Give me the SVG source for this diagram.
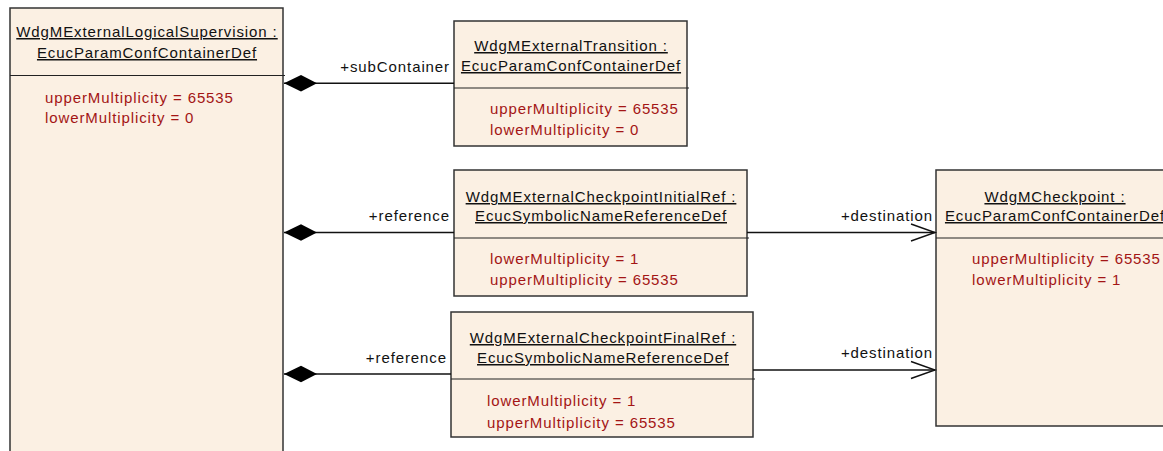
<svg xmlns="http://www.w3.org/2000/svg" width="1163" height="451" viewBox="0 0 1163 451">
<style>
.box{fill:#FBF0E3;stroke:#333;stroke-width:1.5}
.div{stroke:#222;stroke-width:1.2}
.t{font-family:"Liberation Sans",Arial,sans-serif;font-size:15px;fill:#111;letter-spacing:0.9px}
.ti{text-anchor:middle;text-decoration:underline}
.a{fill:#A31515}
.lbl{text-anchor:end}
.ln{stroke:#111;stroke-width:1.4;fill:none}
</style>
<defs>
<marker id="dia" markerWidth="36" markerHeight="20" refX="34" refY="9" orient="auto" markerUnits="userSpaceOnUse">
<path d="M1,9 L17,0.7 L34,9 L17,17.3 Z" fill="#000"/>
</marker>
<marker id="open" markerWidth="28" markerHeight="22" refX="25" refY="10" orient="auto" markerUnits="userSpaceOnUse">
<path d="M1,1.5 L25,10 L1,18.5" fill="none" stroke="#111" stroke-width="1.4"/>
</marker>
</defs>

<g id="WdgMExternalLogicalSupervision">
<rect class="box" x="10" y="8" width="273" height="460"/>
<line class="div" x1="10" y1="75.5" x2="285" y2="75.5"/>
<text class="t ti" x="147" y="37">WdgMExternalLogicalSupervision :</text>
<text class="t ti" x="147" y="58">EcucParamConfContainerDef</text>
<text class="t a" x="45" y="103">upperMultiplicity = 65535</text>
<text class="t a" x="45" y="123">lowerMultiplicity = 0</text>
</g>

<g id="WdgMExternalTransition">
<rect class="box" x="454" y="21" width="233" height="125"/>
<line class="div" x1="454" y1="88" x2="689" y2="88"/>
<text class="t ti" x="571" y="51">WdgMExternalTransition :</text>
<text class="t ti" x="571" y="71">EcucParamConfContainerDef</text>
<text class="t a" x="490" y="114">upperMultiplicity = 65535</text>
<text class="t a" x="490" y="135">lowerMultiplicity = 0</text>
</g>

<g id="WdgMExternalCheckpointInitialRef">
<rect class="box" x="454" y="170" width="293" height="126"/>
<line class="div" x1="454" y1="238" x2="749" y2="238"/>
<text class="t ti" x="601" y="202">WdgMExternalCheckpointInitialRef :</text>
<text class="t ti" x="601" y="221">EcucSymbolicNameReferenceDef</text>
<text class="t a" x="490" y="264">lowerMultiplicity = 1</text>
<text class="t a" x="490" y="285">upperMultiplicity = 65535</text>
</g>

<g id="WdgMExternalCheckpointFinalRef">
<rect class="box" x="451" y="312" width="302" height="125"/>
<line class="div" x1="451" y1="379" x2="755" y2="379"/>
<text class="t ti" x="603" y="343">WdgMExternalCheckpointFinalRef :</text>
<text class="t ti" x="603" y="363">EcucSymbolicNameReferenceDef</text>
<text class="t a" x="487" y="406">lowerMultiplicity = 1</text>
<text class="t a" x="487" y="428">upperMultiplicity = 65535</text>
</g>

<g id="WdgMCheckpoint">
<rect class="box" x="936" y="170" width="240" height="256"/>
<line class="div" x1="936" y1="238" x2="1176" y2="238"/>
<text class="t ti" x="1055" y="202">WdgMCheckpoint :</text>
<text class="t ti" x="1055" y="221">EcucParamConfContainerDef</text>
<text class="t a" x="972" y="264">upperMultiplicity = 65535</text>
<text class="t a" x="972" y="285">lowerMultiplicity = 1</text>
</g>

<g id="connectors">
<line class="ln" x1="454" y1="83.3" x2="284" y2="83.3" marker-end="url(#dia)"/>
<text class="t lbl" x="450" y="72">+subContainer</text>
<line class="ln" x1="454" y1="232.5" x2="284" y2="232.5" marker-end="url(#dia)"/>
<text class="t lbl" x="450" y="221">+reference</text>
<line class="ln" x1="451" y1="374" x2="284" y2="374" marker-end="url(#dia)"/>
<text class="t lbl" x="447" y="363">+reference</text>
<line class="ln" x1="747" y1="232.5" x2="935" y2="232.5" marker-end="url(#open)"/>
<text class="t lbl" x="933" y="221">+destination</text>
<line class="ln" x1="753" y1="370" x2="935" y2="370" marker-end="url(#open)"/>
<text class="t lbl" x="933" y="358">+destination</text>
</g>
</svg>
